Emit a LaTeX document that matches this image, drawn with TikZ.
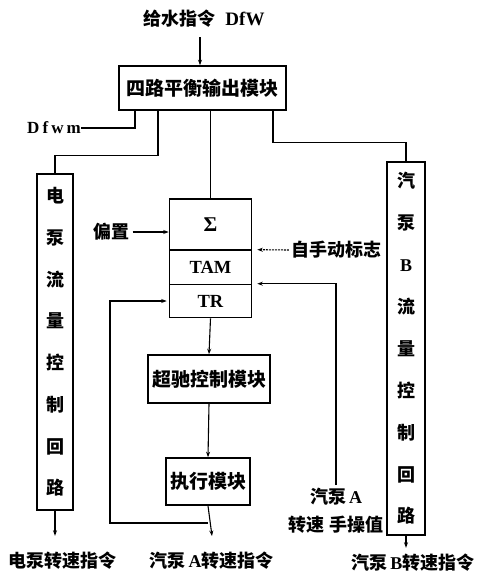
\documentclass[tikz,border=0pt]{standalone}
\usepackage{fontspec}
\setmainfont{Liberation Serif}
\newfontfamily\cjk{Noto Sans CJK SC}
\newcommand{\lat}{\rmfamily\bfseries}
\usetikzlibrary{arrows.meta,calc}
\begin{document}
\begin{tikzpicture}[x=1pt,y=-1pt,
  box/.style={draw,line width=1.6pt,inner sep=0pt},
  ln/.style={line width=1.1pt},
  arr/.style={ln,-{Stealth[length=5.5pt,width=4pt]}},
  zh/.style={font=\cjk\bfseries\fontsize{18}{22}\selectfont,inner sep=0pt},
  zhb/.style={font=\cjk\bfseries\fontsize{19}{22}\selectfont,inner sep=0pt},
  la/.style={font=\lat\fontsize{18.5}{22}\selectfont,inner sep=0pt},
]
\useasboundingbox (0,0) rectangle (480,576);
% x positions
\coordinate (xa) at (135,0);
\coordinate (xb) at (158,0);
\coordinate (xc) at (273,0);
\coordinate (xq) at (336,0);
\coordinate (t1) at (200,37);
\coordinate (lp) at (110,523);
\coordinate (oa) at (212,536);

% title
\node[zh] (title) at (204,19) {给水指令\hspace{10pt}{\lat\fontsize{19}{22}\selectfont DfW}};

% boxes
\node[box,zhb,minimum width=167pt,minimum height=44pt] (top) at (202.5,88) {四路平衡输出模块};
\node[box,zh,minimum width=36pt,minimum height=336pt,align=center,
  font=\cjk\bfseries\fontsize{18}{41.7}\selectfont] (left) at (55,342)
  {电\\泵\\流\\量\\控\\制\\回\\路};
\node[box,zh,minimum width=38pt,minimum height=373pt,align=center,
  font=\cjk\bfseries\fontsize{18}{41.9}\selectfont] (right) at (406,348.5)
  {汽\\泵\\{\lat B}\\流\\量\\控\\制\\回\\路};
\node[box,la,font=\lat\fontsize{21}{24}\selectfont,minimum width=82pt,minimum height=51pt] (sig) at (210.5,224.5) {Σ};
\node[box,la,minimum width=82pt,minimum height=34pt] (tam) at (210.5,267.5) {TAM};
\node[box,la,minimum width=82pt,minimum height=33pt] (tr) at (210.5,301) {TR};
\node[box,zhb,minimum width=122pt,minimum height=48pt] (sc) at (209,379) {超驰控制模块};
\node[box,zhb,minimum width=84pt,minimum height=47pt] (ex) at (208,481.5) {执行模块};

% labels
\node[la,font=\lat\fontsize{17}{20}\selectfont\addfontfeature{LetterSpace=18}] (dfwm) at (54,128) {Dfwm};
\node[zh] (bias) at (111.5,232) {偏置};
\node[zh] (zsd) at (336,250) {自手动标志};
\node[zh,align=center,font=\cjk\bfseries\fontsize{18}{28}\selectfont] (qa) at (336,511) {汽泵{\lat\,A}\\转速\hspace{5pt}手操值};
\node[zh] (o1) at (63,561) {电泵转速指令};
\node[zh] (o2) at (211.5,561) {汽泵{\lat\,A}转速指令};
\node[zh] (o3) at (413,563) {汽泵{\lat\,B}转速指令};

% connectors
\draw[arr] (t1) -- (t1 |- top.north);
\draw[ln] (top.south -| xa) |- (dfwm.east);
\draw[ln] (top.south -| xb) -- ++(0,45) -| (left.north);
\draw[ln] (top.south -| sig.north) -- (sig.north);
\draw[ln] (top.south -| xc) -- ++(0,32) -| (right.north);
\draw[arr] ([xshift=3pt]bias.east) -- (bias.east -| sig.west);
\draw[arr,dashed,dash pattern=on 2pt off 1pt] ([xshift=-2pt]zsd.west) -- ([xshift=5pt]tam.north east);
\draw[arr] ([yshift=3pt]qa.north -| xq) |- ([xshift=5pt]tr.north east);
\draw[arr] (tr.south) -- (sc.north);
\draw[arr] (sc.south) -- (ex.north);
\draw[arr] (ex.south) -- (oa);
\draw[arr] (ex.south |- lp) -- (lp) |- ([xshift=-2pt]tr.west);
\draw[arr] (left.south) -- ++(0,25);
\draw[arr] (right.south) -- ++(0,12);
\end{tikzpicture}
\end{document}
